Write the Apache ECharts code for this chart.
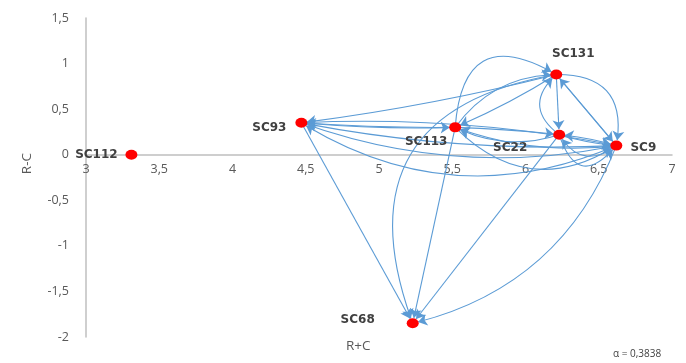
<!DOCTYPE html>
<html><head><meta charset="utf-8">
<script src="https://cdn.jsdelivr.net/npm/echarts@6/dist/echarts.min.js"></script>
<style>html,body{margin:0;padding:0;background:#fff}#c{width:686px;height:363px}</style>
</head><body><div id="c"></div>
<script>
// Nodes
var nodeNames = ['SC112','SC93','SC113','SC131','SC22','SC9','SC68'];
var nodeX = [3.31, 4.47, 5.52, 6.21, 6.23, 6.62, 5.23];
var nodeY = [0.00, 0.35, 0.30, 0.88, 0.22, 0.10, -1.85];
// Links (source -> target) and curvature
var linkSource = ['SC131','SC113','SC9','SC9','SC93','SC113','SC131','SC22','SC9','SC131','SC22','SC9','SC113','SC113','SC131','SC22','SC9','SC93','SC113','SC9','SC9','SC131','SC22','SC22','SC113','SC93','SC93','SC131'];
var linkTarget = ['SC93','SC93','SC93','SC93','SC68','SC68','SC68','SC68','SC68','SC22','SC131','SC131','SC131','SC131','SC113','SC113','SC113','SC113','SC22','SC22','SC22','SC9','SC9','SC9','SC9','SC9','SC9','SC9'];
var linkCurve  = [0.03, 0.03, 0.06, 0.26, 0, 0, -0.6, 0, 0.26, 0, 0.6, 0, 0.8, 0.25, 0.04, 0.2, 0.12, -0.02, 0.02, -0.05, 0.55, 0, -0.05, -0.9, -0.4, 0.06, -0.14, 0.6];
// Axis ticks
var xMin = 3, xMax = 7, xStep = 0.5;
var yMin = -2, yMax = 1.5, yStep = 0.5;
var alphaText = 'α = 0,3838';

var labelOffsets = {
  'SC112': [-35, 0], 'SC93': [-32, 5], 'SC113': [-29, 15], 'SC131': [17, -21],
  'SC22': [-49, 13], 'SC9': [27, 2], 'SC68': [-55, -3]
};
var nodes = nodeNames.map(function (n, i) {
  return { name: n, value: [nodeX[i], nodeY[i]],
    label: { show: true, position: 'inside', offset: labelOffsets[n] } };
});
var links = linkSource.map(function (s, i) {
  return { source: s, target: linkTarget[i], lineStyle: { curveness: linkCurve[i] } };
});
function fmt(v) { return String(Math.round(v * 10) / 10).replace('.', ','); }

var gridTop = 18, gridBottom = 26, H = 363;
var zeroOffset = -(H - gridTop - gridBottom) * (0 - yMin) / (yMax - yMin);

var chart = echarts.init(document.getElementById('c'));
chart.setOption({
  animation: false,
  backgroundColor: '#fff',
  grid: { left: 86, right: 14, top: gridTop, bottom: gridBottom },
  xAxis: {
    type: 'value', min: xMin, max: xMax, interval: xStep, offset: zeroOffset,
    axisLine: { onZero: false, lineStyle: { color: '#bfbfbf', width: 1.5 } },
    axisTick: { show: false }, splitLine: { show: false },
    axisLabel: { color: '#595959', fontFamily: 'Open Sans', fontSize: 12.5, margin: 8, formatter: fmt }
  },
  yAxis: {
    type: 'value', min: yMin, max: yMax, interval: yStep,
    axisLine: { show: true, onZero: false, lineStyle: { color: '#bfbfbf', width: 1.5 } },
    axisTick: { show: false }, splitLine: { show: false },
    axisLabel: { color: '#595959', fontFamily: 'Open Sans', fontSize: 12.5, margin: 17, formatter: fmt }
  },
  graphic: [
    { type: 'text', left: 20, top: 153, rotation: Math.PI / 2,
      style: { text: 'R-C', fill: '#595959', font: '13.5px "Open Sans"' } },
    { type: 'text', x: 346, y: 339, style: { text: 'R+C', fill: '#595959', font: '13.5px "Open Sans"' } },
    { type: 'text', x: 613, y: 349, style: { text: alphaText, fill: '#404040', font: '10px "Open Sans"' } }
  ],
  series: [{
    type: 'graph', coordinateSystem: 'cartesian2d', layout: 'none',
    symbol: 'circle', symbolSize: [12, 10],
    itemStyle: { color: '#ff0000' },
    label: { color: '#404040', fontFamily: 'DejaVu Sans', fontWeight: 'bold', fontSize: 12 },
    edgeSymbol: ['none', 'arrow'], edgeSymbolSize: [0, 9],
    lineStyle: { color: '#5b9bd5', width: 1.1, opacity: 1 },
    data: nodes, links: links, z: 3
  }]
});
</script></body></html>
